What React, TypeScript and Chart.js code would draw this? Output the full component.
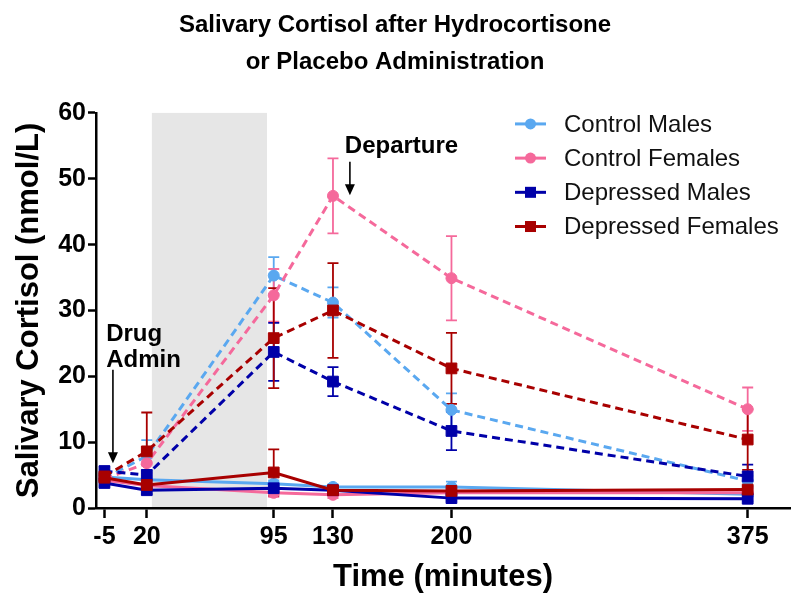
import React, { useEffect, useRef } from 'react';
import { Chart, registerables } from 'chart.js';

Chart.register(...registerables);

const FONT = '"Liberation Sans", Arial, Helvetica, sans-serif';

// ---- data ----
const timePoints = [-5, 20, 95, 130, 200, 375];
const yTickStep = 10;
const yMax = 60;
const xMin = -10;
const xMax = 400;

const groupLabels = ['Control Males', 'Control Females', 'Depressed Males', 'Depressed Females'];
const groupColors = ['#5AA8F0', '#F5699B', '#0000A8', '#A80000'];
const groupMarkers = ['circle', 'circle', 'rect', 'rect'];

// Hydrocortisone (dashed)
const hcControlMales = [4.5, 7.9, 35.3, 31.2, 14.9, 4.1];
const hcControlMalesSem = [0.6, 2.4, 2.8, 2.3, 2.5, 0.8];
const hcControlFemales = [4.4, 6.8, 32.3, 47.4, 34.9, 15.0];
const hcControlFemalesSem = [0.6, 1.5, 4.0, 5.7, 6.4, 3.3];
const hcDepressedMales = [5.6, 5.0, 23.7, 19.2, 11.7, 4.8];
const hcDepressedMalesSem = [0.7, 0.8, 4.4, 2.2, 2.9, 1.8];
const hcDepressedFemales = [4.8, 8.6, 25.8, 30.0, 21.2, 10.4];
const hcDepressedFemalesSem = [0.9, 5.9, 7.6, 7.2, 5.4, 4.6];

// Placebo (solid)
const plControlMales = [4.7, 4.3, 3.7, 3.2, 3.2, 2.1];
const plControlMalesSem = [0.6, 0.6, 0.5, 0.4, 0.8, 0.4];
const plControlFemales = [4.2, 3.4, 2.3, 2.0, 2.3, 2.3];
const plControlFemalesSem = [0.5, 0.5, 0.6, 0.5, 0.4, 0.4];
const plDepressedMales = [3.8, 2.7, 3.0, 2.7, 1.5, 1.4];
const plDepressedMalesSem = [0.5, 0.6, 0.7, 0.4, 0.4, 0.4];
const plDepressedFemales = [4.6, 3.5, 5.4, 2.7, 2.6, 2.8];
const plDepressedFemalesSem = [0.6, 0.7, 3.5, 0.5, 0.5, 0.5];

const hcMeans = [hcControlMales, hcControlFemales, hcDepressedMales, hcDepressedFemales];
const hcSems = [hcControlMalesSem, hcControlFemalesSem, hcDepressedMalesSem, hcDepressedFemalesSem];
const plMeans = [plControlMales, plControlFemales, plDepressedMales, plDepressedFemales];
const plSems = [plControlMalesSem, plControlFemalesSem, plDepressedMalesSem, plDepressedFemalesSem];

// shaded interval (minutes)
const shadeStart = 23;
const shadeEnd = 91;

// annotations (data coordinates)
const drugAdminLines = ['Drug', 'Admin'];
const drugAdminTextPos = { x: -4, y: 25.4 };
const drugAdminArrow = { x: 0, from: 21, to: 6.8 };
const departureText = 'Departure';
const departureTextPos = { x: 137, y: 53.9 };
const departureArrow = { x: 140, from: 52.6, to: 47.5 };

const titleLines = ['Salivary Cortisol after Hydrocortisone', 'or Placebo Administration'];
const xTitle = 'Time (minutes)';
const yTitle = 'Salivary Cortisol (nmol/L)';

function buildDatasets() {
  const order = [3, 2, 1, 0]; // depressed females drawn on top
  const sets: any[] = [];
  order.forEach((g) => {
    const color = groupColors[g];
    const style = groupMarkers[g];
    const radius = style === 'rect' ? 7.6 : 5.5;
    [
      { means: hcMeans[g], sems: hcSems[g], dash: [8, 5] },
      { means: plMeans[g], sems: plSems[g], dash: [] },
    ].forEach((s) => {
      sets.push({
        label: groupLabels[g],
        data: timePoints.map((t, j) => ({ x: t, y: s.means[j] })),
        sem: s.sems,
        borderColor: color,
        backgroundColor: color,
        borderWidth: 3,
        borderDash: s.dash,
        pointStyle: style,
        pointRadius: radius,
        pointBorderWidth: 1,
        pointBackgroundColor: color,
        pointBorderColor: color,
        tension: 0,
        fill: false,
      });
    });
  });
  return sets;
}

const shadePlugin = {
  id: 'shade',
  beforeDraw(chart: any) {
    const { ctx, scales } = chart;
    const x = scales.x, y = scales.y;
    const x0 = x.getPixelForValue(shadeStart);
    const x1 = x.getPixelForValue(shadeEnd);
    const y0 = y.getPixelForValue(yMax);
    const y1 = y.getPixelForValue(0);
    ctx.save();
    ctx.fillStyle = '#E6E6E6';
    ctx.fillRect(x0, y0, x1 - x0, y1 - y0);
    ctx.restore();
  },
};

const errorBarPlugin = {
  id: 'errorBars',
  beforeDatasetsDraw(chart: any) {
    const { ctx, scales } = chart;
    const x = scales.x, y = scales.y;
    ctx.save();
    for (let i = chart.data.datasets.length - 1; i >= 0; i--) {
      const ds: any = chart.data.datasets[i];
      ctx.strokeStyle = ds.borderColor;
      ctx.lineWidth = 1.8;
      ctx.setLineDash([]);
      ds.data.forEach((p: any, j: number) => {
        const s = ds.sem[j];
        const px = x.getPixelForValue(p.x);
        const pt = y.getPixelForValue(p.y + s);
        const pb = y.getPixelForValue(Math.max(0, p.y - s));
        ctx.beginPath();
        ctx.moveTo(px, pt);
        ctx.lineTo(px, pb);
        ctx.moveTo(px - 5.5, pt);
        ctx.lineTo(px + 5.5, pt);
        ctx.moveTo(px - 5.5, pb);
        ctx.lineTo(px + 5.5, pb);
        ctx.stroke();
      });
    }
    ctx.restore();
  },
};

function drawArrow(ctx: any, px: number, yFrom: number, yTo: number) {
  ctx.beginPath();
  ctx.moveTo(px, yFrom);
  ctx.lineTo(px, yTo - 9);
  ctx.stroke();
  ctx.beginPath();
  ctx.moveTo(px, yTo);
  ctx.lineTo(px - 5, yTo - 11);
  ctx.lineTo(px + 5, yTo - 11);
  ctx.closePath();
  ctx.fill();
}

const annotationPlugin = {
  id: 'annotations',
  afterDatasetsDraw(chart: any) {
    const { ctx, scales } = chart;
    const x = scales.x, y = scales.y;
    ctx.save();
    ctx.fillStyle = '#000';
    ctx.strokeStyle = '#000';
    ctx.lineWidth = 1.6;
    ctx.font = `bold 24px ${FONT}`;
    ctx.textAlign = 'left';
    ctx.textBaseline = 'alphabetic';
    const dx = x.getPixelForValue(drugAdminTextPos.x);
    const dy = y.getPixelForValue(drugAdminTextPos.y);
    drugAdminLines.forEach((line, i) => ctx.fillText(line, dx, dy + i * 26));
    drawArrow(ctx, x.getPixelForValue(drugAdminArrow.x), y.getPixelForValue(drugAdminArrow.from), y.getPixelForValue(drugAdminArrow.to));
    ctx.fillText(departureText, x.getPixelForValue(departureTextPos.x), y.getPixelForValue(departureTextPos.y));
    drawArrow(ctx, x.getPixelForValue(departureArrow.x), y.getPixelForValue(departureArrow.from), y.getPixelForValue(departureArrow.to));
    ctx.restore();
  },
};

const legendPlugin = {
  id: 'customLegend',
  afterDraw(chart: any) {
    const { ctx, chartArea } = chart;
    const lineX0 = chartArea.right - 275;
    const lineX1 = chartArea.right - 244;
    const mx = (lineX0 + lineX1) / 2;
    const textX = chartArea.right - 226;
    ctx.save();
    groupLabels.forEach((label, i) => {
      const cy = chartArea.top + 11 + i * 34.2;
      const color = groupColors[i];
      ctx.strokeStyle = color;
      ctx.fillStyle = color;
      ctx.lineWidth = 3;
      ctx.beginPath();
      ctx.moveTo(lineX0, cy);
      ctx.lineTo(lineX1, cy);
      ctx.stroke();
      if (groupMarkers[i] === 'circle') {
        ctx.beginPath();
        ctx.arc(mx, cy, 5.5, 0, Math.PI * 2);
        ctx.fill();
      } else {
        ctx.fillRect(mx - 5.5, cy - 5.5, 11, 11);
      }
      ctx.fillStyle = '#111';
      ctx.font = `24px ${FONT}`;
      ctx.textAlign = 'left';
      ctx.textBaseline = 'middle';
      ctx.fillText(label, textX, cy + 1);
    });
    ctx.restore();
  },
};

export default function App() {
  const canvasRef = useRef<HTMLCanvasElement | null>(null);

  useEffect(() => {
    const canvas = canvasRef.current;
    if (!canvas) return;
    const chart = new Chart(canvas, {
      type: 'line',
      data: { datasets: buildDatasets() },
      plugins: [shadePlugin, errorBarPlugin, annotationPlugin, legendPlugin],
      options: {
        responsive: false,
        animation: false,
        devicePixelRatio: 1,
        layout: { padding: { left: 0, right: 10, top: 0, bottom: 0 } },
        plugins: {
          legend: { display: false },
          tooltip: { enabled: false },
          title: {
            display: true,
            text: titleLines,
            color: '#000',
            font: { family: FONT, size: 24, weight: 'bold', lineHeight: 1.54 },
            padding: { top: 6.5, bottom: 32.5 },
          },
        },
        scales: {
          x: {
            type: 'linear',
            min: xMin,
            max: xMax,
            afterBuildTicks: (axis: any) => {
              axis.ticks = timePoints.map((v) => ({ value: v }));
            },
            afterFit: (scale: any) => {
              scale.height = 102;
            },
            ticks: {
              autoSkip: false,
              maxRotation: 0,
              color: '#000',
              padding: 4,
              font: { family: FONT, size: 25, weight: 'bold' },
              callback: (v: any) => String(v),
            },
            grid: {
              display: true,
              drawOnChartArea: false,
              drawTicks: true,
              tickLength: 10,
              tickWidth: 2.5,
              tickColor: '#000',
            },
            border: { display: true, color: '#000', width: 2.5 },
            title: {
              display: true,
              text: xTitle,
              color: '#000',
              font: { family: FONT, size: 31, weight: 'bold', lineHeight: 1.2 },
              padding: { top: 0, bottom: 14.4 },
            },
          },
          y: {
            type: 'linear',
            min: 0,
            max: yMax,
            afterFit: (scale: any) => {
              scale.width = 96;
            },
            ticks: {
              stepSize: yTickStep,
              color: '#000',
              padding: 2,
              font: { family: FONT, size: 25, weight: 'bold' },
            },
            grid: {
              display: true,
              drawOnChartArea: false,
              drawTicks: true,
              tickLength: 8,
              tickWidth: 2.5,
              tickColor: '#000',
            },
            border: { display: true, color: '#000', width: 2.5 },
            title: {
              display: true,
              text: yTitle,
              color: '#000',
              font: { family: FONT, size: 31, weight: 'bold', lineHeight: 1.2 },
              padding: { top: 10.4, bottom: 0 },
            },
          },
        },
      } as any,
    });
    return () => chart.destroy();
  }, []);

  return (
    <div style={{ position: 'fixed', left: 0, top: 0, width: 800, height: 610, background: '#fff' }}>
      <canvas ref={canvasRef} width={800} height={610} style={{ display: 'block' }} />
    </div>
  );
}
